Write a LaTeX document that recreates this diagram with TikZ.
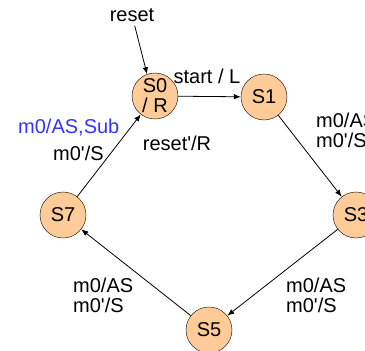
\documentclass[tikz,border=0pt]{standalone}
\usepackage{fontspec}
\setmainfont{Liberation Sans}
\usetikzlibrary{arrows.meta}
\definecolor{stateorange}{RGB}{255,204,153}
\definecolor{subblue}{RGB}{51,51,255}
\newcommand{\pr}{\textquotesingle}

\begin{document}
\begin{tikzpicture}[
        % define styles
        x=1pt, y=-1pt,
        every node/.style={font=\fontsize{20}{20}\selectfont},
        state/.style={
            draw, circle, fill=stateorange,
            minimum size=46pt, inner sep=0pt, align=center
        },
        lbl/.style={
            draw=none, fill=none, align=left, inner sep=0pt
        },
        edge/.style={->, line width=0.8pt},
        >={Latex[length=7pt,width=5.5pt]}
    ]
    \useasboundingbox (0,0) rectangle (365,351);

    % states
    \node[state] (s0) at (155,96) {S0\\/ R};
    \node[state] (s1) at (264,97) {S1};
    \node[state] (s3) at (356,215) {S3};
    \node[state] (s5) at (209,330) {S5};
    \node[state] (s7) at (63,215) {S7};

    % reset input
    \node[lbl] (reset) at (132,15) {reset};
    \draw[edge, shorten <=4pt] (reset) -- (s0.110);

    % transitions
    \draw[edge] (s0) -- (s1);
    \draw[edge] (s1) -- (s3);
    \draw[edge] (s3) -- (s5);
    \draw[edge] (s5) -- (s7);
    \draw[edge] (s7) -- (s0);

    % transition labels
    \node[lbl] (start) at (207,76) {start / L};
    \node[lbl] (rst) at (177,143) {reset\pr/R};
    \node[lbl, anchor=west, text=subblue] (sub) at (18,128) {m0/AS,Sub};
    \node[lbl, anchor=west] (sub2) at (53,153) {m0\pr/S};
    \node[lbl, anchor=west] (as13) at (316,130) {m0/AS\\m0\pr/S};
    \node[lbl, anchor=west] (as35) at (286,295) {m0/AS\\m0\pr/S};
    \node[lbl, anchor=west] (as57) at (73,295) {m0/AS\\m0\pr/S};
\end{tikzpicture}
\end{document}
